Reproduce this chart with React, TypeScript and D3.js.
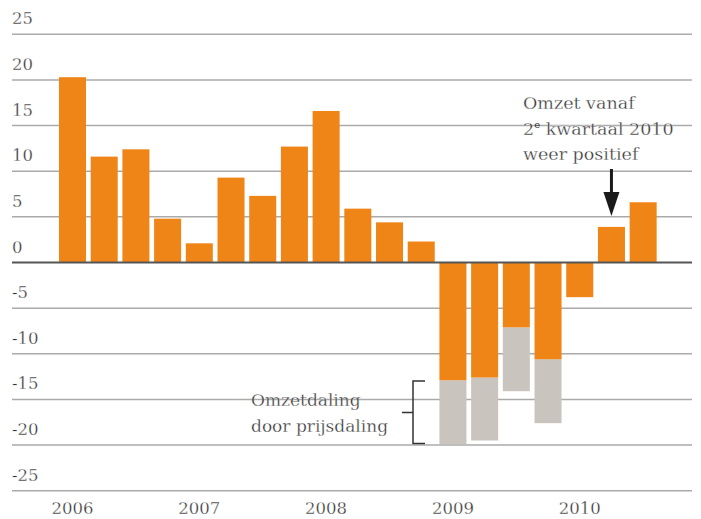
import React from "react";
import * as d3 from "d3";

const quarters = [
  "2006Q1", "2006Q2", "2006Q3", "2006Q4",
  "2007Q1", "2007Q2", "2007Q3", "2007Q4",
  "2008Q1", "2008Q2", "2008Q3", "2008Q4",
  "2009Q1", "2009Q2", "2009Q3", "2009Q4",
  "2010Q1", "2010Q2", "2010Q3",
];
const turnover = [20.3, 11.6, 12.4, 4.8, 2.1, 9.3, 7.3, 12.7, 16.6, 5.9, 4.4, 2.3, -12.9, -12.6, -7.1, -10.6, -3.8, 3.9, 6.6];
const priceEffect = [0, 0, 0, 0, 0, 0, 0, 0, 0, 0, 0, 0, -7.0, -6.9, -7.0, -7.0, 0, 0, 0];
const yTicks = [25, 20, 15, 10, 5, 0, -5, -10, -15, -20, -25];
const yearLabels = ["2006", "2007", "2008", "2009", "2010"];

const W = 701;
const H = 519;
const FONT = "'DejaVu Serif', serif";
const ORANGE = "#ef8417";
const GREY = "#c9c4bd";
const TEXT = "#333333";

export default function App() {
  const y = d3.scaleLinear().domain([-25, 25]).range([490.7, 34.3]);
  const x = d3
    .scaleBand<string>()
    .domain(quarters)
    .range([56.65, 659])
    .paddingInner(0.148)
    .paddingOuter(0.074);
  const bw = x.bandwidth();
  const thin = { stroke: "#fff", strokeWidth: 0.3 } as const;

  return (
    <svg
      width={W}
      height={H}
      style={{ position: "absolute", left: 0, top: 0, background: "#fff" }}
      fontFamily={FONT}
    >
      {yTicks.map((t) =>
        t !== 0 ? (
          <line key={"g" + t} x1={12} x2={692} y1={y(t)} y2={y(t)} stroke="#aaaaaa" strokeWidth={1.5} />
        ) : null
      )}
      {yTicks.map((t) => (
        <text key={"t" + t} x={12} y={y(t) - 10} fontSize={16.5} fill={TEXT} {...thin}>
          {t}
        </text>
      ))}

      {quarters.map((q, i) => {
        const v = turnover[i];
        const p = priceEffect[i];
        return (
          <g key={q}>
            {p !== 0 && (
              <rect x={x(q)} y={y(v)} width={bw} height={y(v + p) - y(v)} fill={GREY} />
            )}
            <rect
              x={x(q)}
              y={Math.min(y(v), y(0))}
              width={bw}
              height={Math.abs(y(v) - y(0))}
              fill={ORANGE}
            />
          </g>
        );
      })}

      <line x1={12} x2={692} y1={y(0)} y2={y(0)} stroke="#555" strokeWidth={2} />

      {yearLabels.map((yr) => {
        const q = yr + "Q1";
        return (
          <text key={yr} x={(x(q) as number) + bw / 2} y={514} fontSize={16.5} fill={TEXT} textAnchor="middle" {...thin}>
            {yr}
          </text>
        );
      })}

      {/* annotation: positive again */}
      <g fill={TEXT} fontSize={17.5} {...thin}>
        <text x={523} y={109}>Omzet vanaf</text>
        <text x={523} y={134.5}>
          2<tspan fontSize={10} dy={-7} strokeWidth={0}>e</tspan>
          <tspan dy={7}> kwartaal 2010</tspan>
        </text>
        <text x={523} y={160}>weer positief</text>
      </g>
      {(() => {
        const ax = (x("2010Q2") as number) + bw / 2;
        const tipY = y(3.9) - 11;
        return (
          <g>
            <line x1={ax} x2={ax} y1={169} y2={tipY - 20} stroke="#1a1a1a" strokeWidth={3} />
            <path d={`M${ax - 8},${tipY - 24} L${ax + 8},${tipY - 24} L${ax},${tipY} Z`} fill="#1a1a1a" />
          </g>
        );
      })()}

      {/* annotation: price decline */}
      <g fill={TEXT} fontSize={17} {...thin}>
        <text x={251} y={406}>Omzetdaling</text>
        <text x={251} y={431.5}>door prijsdaling</text>
      </g>
      <path d="M425,381 H413 V443.5 H425 M402,412.5 H413" fill="none" stroke="#333" strokeWidth={1.5} />
    </svg>
  );
}
